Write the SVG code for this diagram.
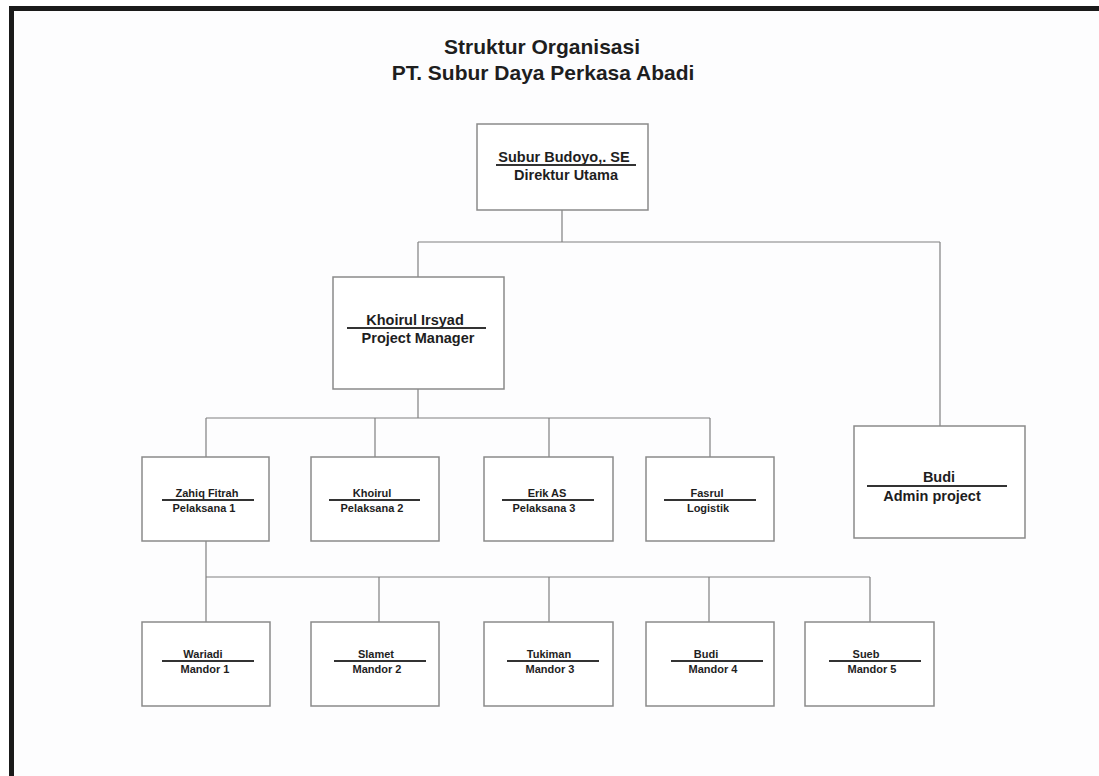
<svg xmlns="http://www.w3.org/2000/svg" width="1099" height="776" viewBox="0 0 1099 776">
<style>
.box{fill:#ffffff;stroke:#8a8a8a;stroke-width:1.5}
.ul{stroke:#333333;stroke-width:2}
.con{stroke:#808080;stroke-width:1.2;fill:none}
text{font-family:"Liberation Sans",Arial,sans-serif;font-weight:bold;fill:#1e1e1e;text-anchor:middle}
.t{font-size:21px}
.l{font-size:14.5px}
.s{font-size:11px}
</style>
<rect x="0" y="0" width="1099" height="776" fill="#ffffff"/>
<rect x="14" y="11" width="1085" height="765" fill="#fdfdfe"/>
<rect id="border-top" x="9" y="6" width="1090" height="5" fill="#1a1a1a"/>
<rect id="border-left" x="9" y="6" width="5" height="770" fill="#1a1a1a"/>
<g id="title">
<text class="t" x="542" y="54">Struktur Organisasi</text>
<text class="t" x="543" y="80">PT. Subur Daya Perkasa Abadi</text>
</g>
<g id="connectors">
<path class="con" d="M562 210V242M418 242H940M418 242V277M940 242V426"/>
<path class="con" d="M418 389V418M206 418H710M206 418V457M375 418V457M549 418V457M710 418V457"/>
<path class="con" d="M206 541V577M206 577H870M206 577V622M379 577V622M549 577V622M709 577V622M870 577V622"/>
</g>
<g id="direktur">
<rect class="box" x="477" y="124" width="171" height="86"/>
<text class="l" x="564" y="162">Subur Budoyo,. SE</text>
<line class="ul" x1="496" y1="165" x2="636" y2="165"/>
<text class="l" x="566" y="180">Direktur Utama</text>
</g>
<g id="pm">
<rect class="box" x="333" y="277" width="171" height="112"/>
<text class="l" x="415" y="325">Khoirul Irsyad</text>
<line class="ul" x1="347" y1="328" x2="486" y2="328"/>
<text class="l" x="418" y="343">Project Manager</text>
</g>
<g id="admin">
<rect class="box" x="854" y="426" width="171" height="112"/>
<text class="l" x="939" y="482">Budi</text>
<line class="ul" x1="867" y1="486" x2="1007" y2="486"/>
<text class="l" x="932" y="501">Admin project</text>
</g>
<g id="pelaksana1">
<rect class="box" x="142" y="457" width="127" height="84"/>
<text class="s" x="207" y="497">Zahiq Fitrah</text>
<line class="ul" x1="162" y1="500" x2="254" y2="500"/>
<text class="s" x="204" y="512">Pelaksana 1</text>
</g>
<g id="pelaksana2">
<rect class="box" x="311" y="457" width="128" height="84"/>
<text class="s" x="372" y="497">Khoirul</text>
<line class="ul" x1="329" y1="500" x2="420" y2="500"/>
<text class="s" x="372" y="512">Pelaksana 2</text>
</g>
<g id="pelaksana3">
<rect class="box" x="484" y="457" width="129" height="84"/>
<text class="s" x="547" y="497">Erik AS</text>
<line class="ul" x1="502" y1="500" x2="594" y2="500"/>
<text class="s" x="544" y="512">Pelaksana 3</text>
</g>
<g id="logistik">
<rect class="box" x="646" y="457" width="128" height="84"/>
<text class="s" x="707" y="497">Fasrul</text>
<line class="ul" x1="664" y1="500" x2="756" y2="500"/>
<text class="s" x="708" y="512">Logistik</text>
</g>
<g id="mandor1">
<rect class="box" x="142" y="622" width="128" height="84"/>
<text class="s" x="203" y="658">Wariadi</text>
<line class="ul" x1="162" y1="661" x2="254" y2="661"/>
<text class="s" x="205" y="673">Mandor 1</text>
</g>
<g id="mandor2">
<rect class="box" x="311" y="622" width="128" height="84"/>
<text class="s" x="376" y="658">Slamet</text>
<line class="ul" x1="334" y1="661" x2="426" y2="661"/>
<text class="s" x="377" y="673">Mandor 2</text>
</g>
<g id="mandor3">
<rect class="box" x="484" y="622" width="129" height="84"/>
<text class="s" x="549" y="658">Tukiman</text>
<line class="ul" x1="507" y1="661" x2="599" y2="661"/>
<text class="s" x="550" y="673">Mandor 3</text>
</g>
<g id="mandor4">
<rect class="box" x="646" y="622" width="128" height="84"/>
<text class="s" x="706" y="658">Budi</text>
<line class="ul" x1="671" y1="661" x2="763" y2="661"/>
<text class="s" x="713" y="673">Mandor 4</text>
</g>
<g id="mandor5">
<rect class="box" x="805" y="622" width="129" height="84"/>
<text class="s" x="866" y="658">Sueb</text>
<line class="ul" x1="829" y1="661" x2="921" y2="661"/>
<text class="s" x="872" y="673">Mandor 5</text>
</g>
</svg>
